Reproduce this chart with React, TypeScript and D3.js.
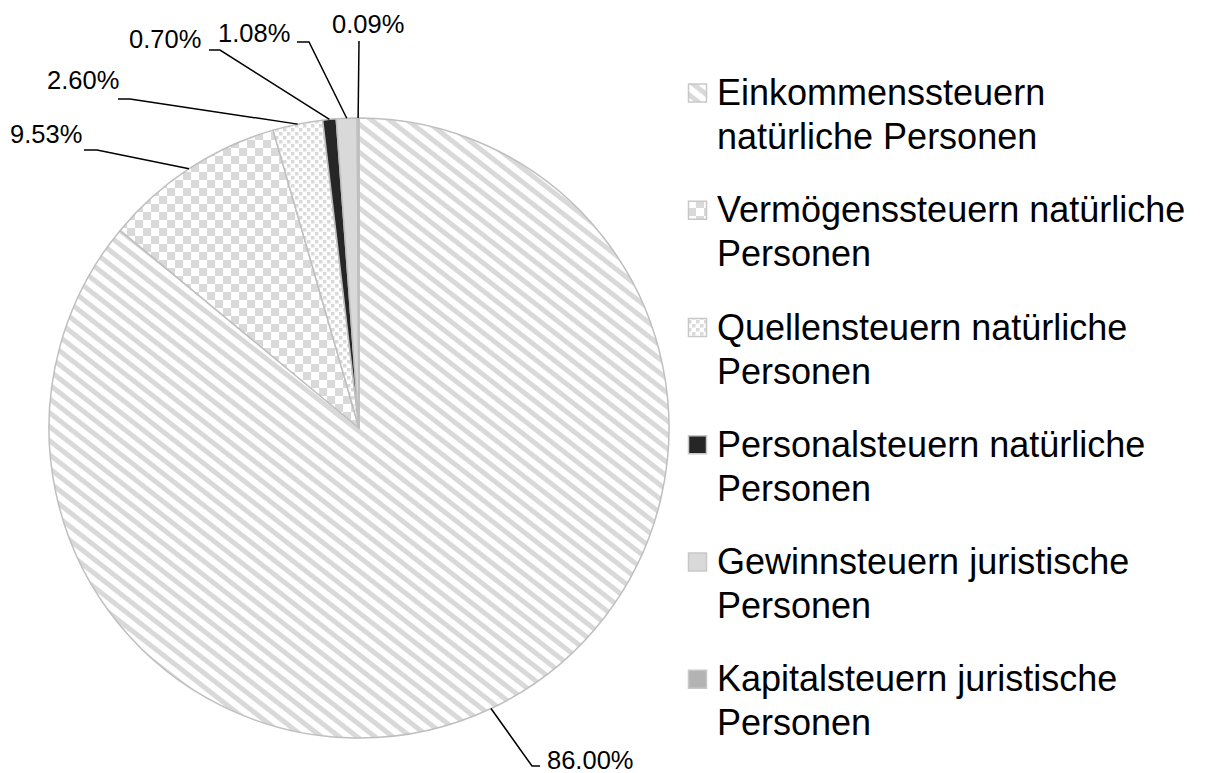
import React from "react";
import * as d3 from "d3";

// ---- data ----
const categories = [
  "Einkommenssteuern natürliche Personen",
  "Vermögenssteuern natürliche Personen",
  "Quellensteuern natürliche Personen",
  "Personalsteuern natürliche Personen",
  "Gewinnsteuern juristische Personen",
  "Kapitalsteuern juristische Personen",
];
const values = [86.0, 9.53, 2.6, 0.7, 1.08, 0.09];
const valueLabels = ["86.00%", "9.53%", "2.60%", "0.70%", "1.08%", "0.09%"];

// ---- layout / style ----
const W = 1212;
const H = 773;
const CX = 359;
const CY = 428;
const R = 310;
const fills = ["url(#p-stripe)", "url(#p-check)", "url(#p-dots)", "#262626", "#d9d9d9", "#b3b3b3"];
const legendBreak = [1, 2, 2, 2, 2, 2];
const legendX = 717;
const legendY0 = 105;
const legendStep = 117.25;
const legendLine = 44;
const legendFont = 36;
const labelFont = 25.5;
// label text anchor (left, baseline) and leader elbow (near, far)
const labelLayout = [
  { tx: 547, ty: 769, e1: [532, 766], e2: [540, 766] },
  { tx: 10, ty: 143, e1: [97, 150], e2: [84, 150] },
  { tx: 47, ty: 89, e1: [130, 99], e2: [118, 99] },
  { tx: 129, ty: 48, e1: [220, 50], e2: [209, 50] },
  { tx: 218, ty: 42, e1: [309, 42], e2: [297, 42] },
  { tx: 332, ty: 33, e1: [359, 41], e2: [359, 41] },
];

export default function App() {
  const pie = d3
    .pie<number>()
    .sort(null)
    .startAngle(0)
    .endAngle(2 * Math.PI)
    .value((d) => d);
  const arcs = pie(values);
  const arc = d3.arc<d3.PieArcDatum<number>>().innerRadius(0).outerRadius(R);
  const edge = d3.arc<d3.PieArcDatum<number>>().innerRadius(R).outerRadius(R);

  return (
    <svg
      width={W}
      height={H}
      style={{ position: "absolute", left: 0, top: 0, background: "#fff" }}
      fontFamily="'Liberation Sans', Arial, sans-serif"
    >
      <defs>
        <pattern id="p-stripe" width={12} height={11} patternUnits="userSpaceOnUse" patternTransform="rotate(38)">
          <rect width={12} height={11} fill="#fff" />
          <rect width={12} height={5} fill="#d9d9d9" />
        </pattern>
        <pattern id="p-check" width={16} height={16} patternUnits="userSpaceOnUse">
          <rect width={16} height={16} fill="#fff" />
          <rect x={0} y={0} width={8} height={8} fill="#d9d9d9" />
          <rect x={8} y={8} width={8} height={8} fill="#d9d9d9" />
        </pattern>
        <pattern id="p-dots" width={8} height={8} patternUnits="userSpaceOnUse">
          <rect width={8} height={8} fill="#fff" />
          <rect x={0} y={0} width={3.5} height={3.5} fill="#d9d9d9" />
          <rect x={4} y={4} width={3.5} height={3.5} fill="#d9d9d9" />
        </pattern>
      </defs>

      <g transform={`translate(${CX},${CY})`}>
        {arcs.map((a, i) => (
          <path key={i} d={arc(a) || ""} fill={fills[i]} stroke="#bfbfbf" strokeWidth={1.5} strokeLinejoin="round" />
        ))}
      </g>

      {arcs.map((a, i) => {
        const [ax, ay] = edge.centroid(a);
        const L = labelLayout[i];
        const pts = [[ax + CX, ay + CY], L.e1, L.e2];
        return (
          <g key={i}>
            <polyline
              points={pts.map((p) => p.join(",")).join(" ")}
              fill="none"
              stroke="#000"
              strokeWidth={1.5}
            />
            <text x={L.tx} y={L.ty} fontSize={labelFont} fill="#000">
              {valueLabels[i]}
            </text>
          </g>
        );
      })}

      {categories.map((c, i) => {
        const words = c.split(" ");
        const lines = [words.slice(0, legendBreak[i]).join(" "), words.slice(legendBreak[i]).join(" ")];
        const by = legendY0 + i * legendStep;
        return (
          <g key={i}>
            <rect x={688.5} y={by - 21} width={18} height={18} fill={fills[i]} stroke="#c8c8c8" strokeWidth={1.5} />
            {lines.map((ln, j) => (
              <text key={j} x={legendX} y={by + j * legendLine} fontSize={legendFont} fill="#000">
                {ln}
              </text>
            ))}
          </g>
        );
      })}
    </svg>
  );
}
